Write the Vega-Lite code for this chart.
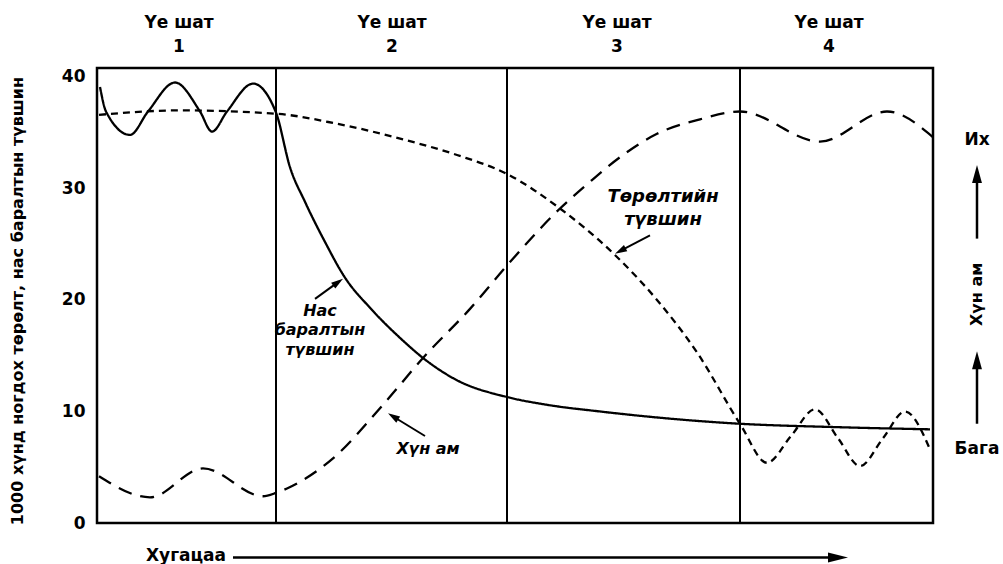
{
  "$schema": "https://vega.github.io/schema/vega-lite/v6.json",
  "width": 836,
  "height": 455,
  "autosize": "none",
  "padding": {"left": 97, "top": 68, "right": 70, "bottom": 41},
  "background": "white",
  "config": {"view": {"stroke": "black", "strokeWidth": 2.5}, "font": "DejaVu Sans"},
  "datasets": {
    "curves": [
      {"series": "death", "t": 3, "v": 39.1},
      {"series": "death", "t": 9, "v": 36.9},
      {"series": "death", "t": 33, "v": 34.8},
      {"series": "death", "t": 51, "v": 36.9},
      {"series": "death", "t": 78, "v": 39.5},
      {"series": "death", "t": 103, "v": 36.9},
      {"series": "death", "t": 115, "v": 35.1},
      {"series": "death", "t": 130, "v": 36.9},
      {"series": "death", "t": 156, "v": 39.4},
      {"series": "death", "t": 179, "v": 36.8},
      {"series": "death", "t": 193, "v": 31.9},
      {"series": "death", "t": 208, "v": 28.8},
      {"series": "death", "t": 228, "v": 25.2},
      {"series": "death", "t": 248, "v": 22.0},
      {"series": "death", "t": 273, "v": 19.3},
      {"series": "death", "t": 303, "v": 16.6},
      {"series": "death", "t": 326, "v": 14.8},
      {"series": "death", "t": 360, "v": 12.8},
      {"series": "death", "t": 410, "v": 11.3},
      {"series": "death", "t": 450, "v": 10.6},
      {"series": "death", "t": 503, "v": 10.0},
      {"series": "death", "t": 643, "v": 8.9},
      {"series": "death", "t": 738, "v": 8.6},
      {"series": "death", "t": 833, "v": 8.4},
      {"series": "birth", "t": 2, "v": 36.6},
      {"series": "birth", "t": 83, "v": 37.0},
      {"series": "birth", "t": 179, "v": 36.7},
      {"series": "birth", "t": 240, "v": 35.8},
      {"series": "birth", "t": 306, "v": 34.4},
      {"series": "birth", "t": 360, "v": 33.0},
      {"series": "birth", "t": 410, "v": 31.3},
      {"series": "birth", "t": 463, "v": 28.2},
      {"series": "birth", "t": 516, "v": 24.2},
      {"series": "birth", "t": 560, "v": 20.0},
      {"series": "birth", "t": 600, "v": 15.3},
      {"series": "birth", "t": 643, "v": 8.9},
      {"series": "birth", "t": 670, "v": 5.4},
      {"series": "birth", "t": 694, "v": 7.8},
      {"series": "birth", "t": 718, "v": 10.2},
      {"series": "birth", "t": 741, "v": 7.6},
      {"series": "birth", "t": 763, "v": 5.1},
      {"series": "birth", "t": 786, "v": 7.6},
      {"series": "birth", "t": 808, "v": 10.0},
      {"series": "birth", "t": 833, "v": 6.6},
      {"series": "pop", "t": 2, "v": 4.2},
      {"series": "pop", "t": 53, "v": 2.3},
      {"series": "pop", "t": 106, "v": 4.9},
      {"series": "pop", "t": 166, "v": 2.4},
      {"series": "pop", "t": 179, "v": 2.7},
      {"series": "pop", "t": 190, "v": 3.1},
      {"series": "pop", "t": 236, "v": 5.8},
      {"series": "pop", "t": 286, "v": 10.6},
      {"series": "pop", "t": 326, "v": 14.8},
      {"series": "pop", "t": 373, "v": 19.2},
      {"series": "pop", "t": 413, "v": 23.4},
      {"series": "pop", "t": 463, "v": 28.2},
      {"series": "pop", "t": 493, "v": 30.6},
      {"series": "pop", "t": 526, "v": 33.0},
      {"series": "pop", "t": 560, "v": 34.9},
      {"series": "pop", "t": 603, "v": 36.2},
      {"series": "pop", "t": 643, "v": 36.9},
      {"series": "pop", "t": 723, "v": 34.2},
      {"series": "pop", "t": 790, "v": 36.9},
      {"series": "pop", "t": 836, "v": 34.6}
    ]
  },
  "layer": [
    {
      "data": {"values": [{"t": 179}, {"t": 410}, {"t": 643}]},
      "mark": {"type": "rule", "color": "black", "strokeWidth": 2},
      "encoding": {
        "x": {"field": "t", "type": "quantitative", "scale": {"domain": [0, 836], "nice": false, "zero": false}, "axis": null}
      }
    },
    {
      "data": {"name": "curves"},
      "mark": {"type": "line", "interpolate": "monotone", "color": "black", "strokeWidth": 2.3},
      "encoding": {
        "x": {"field": "t", "type": "quantitative", "scale": {"domain": [0, 836], "nice": false, "zero": false}, "axis": null},
        "y": {"field": "v", "type": "quantitative", "scale": {"domain": [0, 40.8], "nice": false},
          "axis": {"values": [0, 10, 20, 30, 40], "title": null, "domain": false, "ticks": false, "tickSize": 0, "grid": false,
            "labelFont": "DejaVu Sans", "labelFontWeight": "bold", "labelFontSize": 17, "labelColor": "black", "labelPadding": 12}},
        "detail": {"field": "series"},
        "strokeDash": {"field": "series", "type": "nominal",
          "scale": {"domain": ["death", "birth", "pop"], "range": [[1, 0], [7, 5], [14, 9]]}, "legend": null}
      }
    },
    {
      "data": {"values": [
        {"x": 82, "y": 44.4, "a": "Үе шат"},
        {"x": 295, "y": 44.4, "a": "Үе шат"},
        {"x": 520, "y": 44.4, "a": "Үе шат"},
        {"x": 732, "y": 44.4, "a": "Үе шат"}
      ]},
      "mark": {"type": "text", "font": "DejaVu Sans", "fontWeight": "bold", "fontSize": 17, "baseline": "alphabetic", "align": "center", "color": "black"},
      "encoding": {
        "x": {"field": "x", "type": "quantitative"},
        "y": {"field": "y", "type": "quantitative"},
        "text": {"field": "a"}
      }
    },
    {
      "data": {"values": [
        {"x": 82, "y": 42.2, "b": "1"},
        {"x": 295, "y": 42.2, "b": "2"},
        {"x": 520, "y": 42.2, "b": "3"},
        {"x": 732, "y": 42.2, "b": "4"}
      ]},
      "mark": {"type": "text", "font": "DejaVu Sans", "fontWeight": "bold", "fontSize": 17, "baseline": "alphabetic", "align": "center", "color": "black"},
      "encoding": {
        "x": {"field": "x", "type": "quantitative"},
        "y": {"field": "y", "type": "quantitative"},
        "text": {"field": "b"}
      }
    },
    {
      "data": {"values": [
        {"x": -79, "y": 19.9, "label": "1000 хүнд ногдох төрөлт, нас баралтын түвшин"}
      ]},
      "mark": {"type": "text", "font": "DejaVu Sans", "fontWeight": "bold", "fontSize": 16, "angle": 270, "baseline": "middle", "align": "center", "color": "black"},
      "encoding": {
        "x": {"field": "x", "type": "quantitative"},
        "y": {"field": "y", "type": "quantitative"},
        "text": {"field": "label"}
      }
    },
    {
      "data": {"values": [
        {"x": 880, "y": 34.3, "label": "Их"},
        {"x": 880, "y": 6.6, "label": "Бага"},
        {"x": 89, "y": -3.0, "label": "Хугацаа"}
      ]},
      "mark": {"type": "text", "font": "DejaVu Sans", "fontWeight": "bold", "fontSize": 17, "baseline": "middle", "align": "center", "color": "black"},
      "encoding": {
        "x": {"field": "x", "type": "quantitative"},
        "y": {"field": "y", "type": "quantitative"},
        "text": {"field": "label"}
      }
    },
    {
      "data": {"values": [
        {"x": 880, "y": 20.5, "label": "Хүн ам"}
      ]},
      "mark": {"type": "text", "font": "DejaVu Sans", "fontWeight": "bold", "fontSize": 16, "angle": 270, "baseline": "middle", "align": "center", "color": "black"},
      "encoding": {
        "x": {"field": "x", "type": "quantitative"},
        "y": {"field": "y", "type": "quantitative"},
        "text": {"field": "label"}
      }
    },
    {
      "data": {"values": [
        {"x": 223, "y": 19.0, "label": "Нас"},
        {"x": 223, "y": 17.3, "label": "баралтын"},
        {"x": 223, "y": 15.5, "label": "түвшин"},
        {"x": 331, "y": 6.6, "label": "Хүн ам"}
      ]},
      "mark": {"type": "text", "font": "DejaVu Sans", "fontWeight": "bold", "fontStyle": "italic", "fontSize": 16, "baseline": "middle", "align": "center", "color": "black"},
      "encoding": {
        "x": {"field": "x", "type": "quantitative"},
        "y": {"field": "y", "type": "quantitative"},
        "text": {"field": "label"}
      }
    },
    {
      "data": {"values": [
        {"x": 566, "y": 29.2, "label": "Төрөлтийн"},
        {"x": 566, "y": 27.2, "label": "түвшин"}
      ]},
      "mark": {"type": "text", "font": "DejaVu Sans", "fontWeight": "bold", "fontStyle": "italic", "fontSize": 18, "baseline": "middle", "align": "center", "color": "black"},
      "encoding": {
        "x": {"field": "x", "type": "quantitative"},
        "y": {"field": "y", "type": "quantitative"},
        "text": {"field": "label"}
      }
    },
    {
      "data": {"values": [
        {"x": 218, "y": 20.1, "x2": 241.1, "y2": 21.6},
        {"x": 328, "y": 7.8, "x2": 296.1, "y2": 9.55},
        {"x": 553, "y": 25.8, "x2": 523.3, "y2": 24.4}
      ]},
      "mark": {"type": "rule", "color": "black", "strokeWidth": 2},
      "encoding": {
        "x": {"field": "x", "type": "quantitative"},
        "y": {"field": "y", "type": "quantitative"},
        "x2": {"field": "x2"},
        "y2": {"field": "y2"}
      }
    },
    {
      "data": {"values": [
        {"x": 880, "y": 25.5, "x2": 880, "y2": 31.3},
        {"x": 880, "y": 8.9, "x2": 880, "y2": 14.6},
        {"x": 136, "y": -3.1, "x2": 741, "y2": -3.1}
      ]},
      "mark": {"type": "rule", "color": "black", "strokeWidth": 2.5},
      "encoding": {
        "x": {"field": "x", "type": "quantitative"},
        "y": {"field": "y", "type": "quantitative"},
        "x2": {"field": "x2"},
        "y2": {"field": "y2"}
      }
    },
    {
      "data": {"values": [{"x": 241.1, "y": 21.6}]},
      "mark": {"type": "point", "shape": "M0,-1L0.6,1L-0.6,1Z", "size": 144, "angle": 54.5, "filled": true, "color": "black", "opacity": 1},
      "encoding": {"x": {"field": "x", "type": "quantitative"}, "y": {"field": "y", "type": "quantitative"}}
    },
    {
      "data": {"values": [{"x": 296.1, "y": 9.55}]},
      "mark": {"type": "point", "shape": "M0,-1L0.6,1L-0.6,1Z", "size": 144, "angle": -58.1, "filled": true, "color": "black", "opacity": 1},
      "encoding": {"x": {"field": "x", "type": "quantitative"}, "y": {"field": "y", "type": "quantitative"}}
    },
    {
      "data": {"values": [{"x": 523.3, "y": 24.4}]},
      "mark": {"type": "point", "shape": "M0,-1L0.6,1L-0.6,1Z", "size": 144, "angle": -117.7, "filled": true, "color": "black", "opacity": 1},
      "encoding": {"x": {"field": "x", "type": "quantitative"}, "y": {"field": "y", "type": "quantitative"}}
    },
    {
      "data": {"values": [{"x": 880, "y": 31.3}, {"x": 880, "y": 14.6}]},
      "mark": {"type": "point", "shape": "M0,-1L0.55,1L-0.55,1Z", "size": 324, "angle": 0, "filled": true, "color": "black", "opacity": 1},
      "encoding": {"x": {"field": "x", "type": "quantitative"}, "y": {"field": "y", "type": "quantitative"}}
    },
    {
      "data": {"values": [{"x": 741, "y": -3.1}]},
      "mark": {"type": "point", "shape": "M0,-1L0.5,1L-0.5,1Z", "size": 400, "angle": 90, "filled": true, "color": "black", "opacity": 1},
      "encoding": {"x": {"field": "x", "type": "quantitative"}, "y": {"field": "y", "type": "quantitative"}}
    }
  ]
}
